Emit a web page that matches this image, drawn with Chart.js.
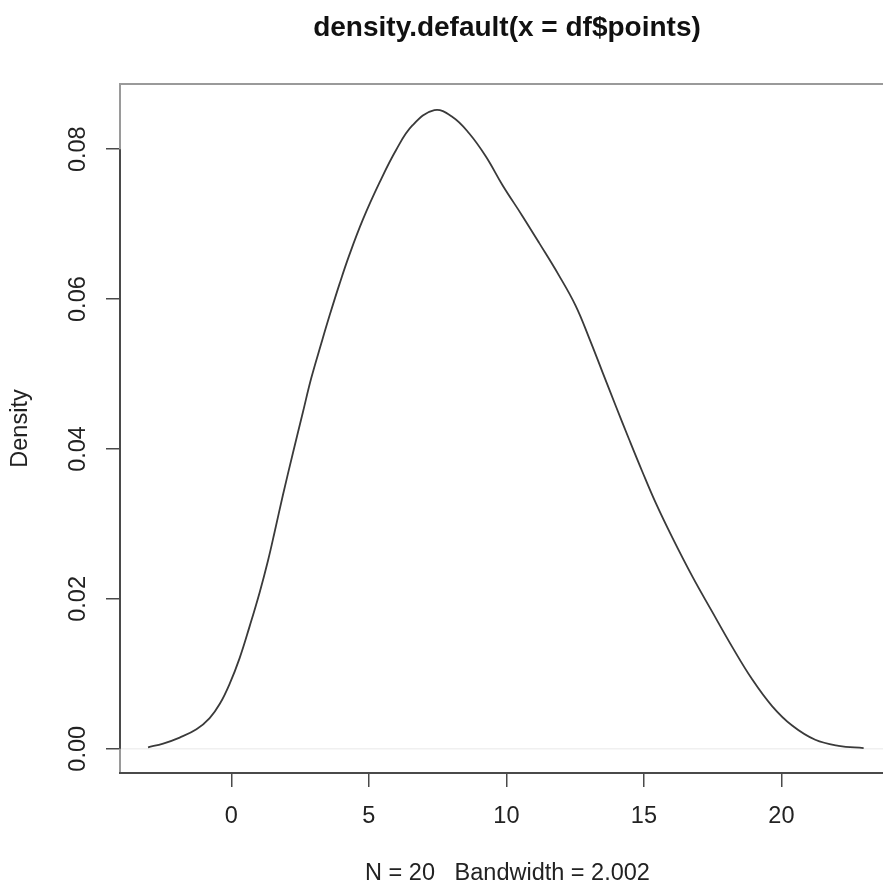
<!DOCTYPE html>
<html>
<head>
<meta charset="utf-8">
<script src="https://cdn.jsdelivr.net/npm/chart.js@4.4.1/dist/chart.umd.min.js"></script>
<style>
  html, body { margin: 0; padding: 0; background: #fff; overflow: hidden; }
  #wrap { position: relative; width: 1014px; height: 884px; }
</style>
</head>
<body>
<div id="wrap"><canvas id="densityChart"></canvas></div>
<script>
// density estimate
const densityX = [-3.03, -2.48, -1.88, -1.27, -0.79, -0.42, -0.06, 0.30, 0.66, 1.03,
	1.33, 1.57, 1.87, 2.24, 2.60, 2.90, 3.27, 3.57, 3.93, 4.29,
	4.78, 5.38, 5.99, 6.59, 7.38, 8.04, 8.65, 9.26, 9.86, 10.58,
	11.19, 11.92, 12.52, 13.01, 13.49, 13.97, 14.46, 14.94, 15.43, 16.03,
	16.76, 17.48, 18.21, 18.93, 19.66, 20.39, 21.23, 22.08, 22.99];
const densityY = [0.0002, 0.0007, 0.0015, 0.0026, 0.0041, 0.0060, 0.0087, 0.0121, 0.0163, 0.0209,
	0.0251, 0.0289, 0.0338, 0.0395, 0.0449, 0.0494, 0.0541, 0.0578, 0.0620, 0.0659,
	0.0706, 0.0755, 0.0799, 0.0832, 0.0852, 0.0843, 0.0821, 0.0790, 0.0752, 0.0711,
	0.0675, 0.0631, 0.0591, 0.0548, 0.0503, 0.0458, 0.0413, 0.0370, 0.0328, 0.0282,
	0.0230, 0.0183, 0.0136, 0.0093, 0.0057, 0.0031, 0.0012, 0.0004, 0.0001];

const xTicks = [0, 5, 10, 15, 20];
const yTicks = [0, 0.02, 0.04, 0.06, 0.08];
const yTickLabels = ['0.00', '0.02', '0.04', '0.06', '0.08'];
const xRange = [-4.05, 24.13];
const yRange = [-0.00323, 0.0887];

const chartTitle = 'density.default(x = df$points)';
const xTitle = 'N = 20   Bandwidth = 2.002';
const yTitle = 'Density';

const fontFamily = '"Liberation Sans", Arial, sans-serif';

// R style box: grey frame, darker axis lines over the tick range
const boxPlugin = {
	id: 'rBox',
	afterDatasetsDraw(chart) {
		const {ctx, chartArea: a, scales: {x, y}} = chart;
		ctx.save();
		ctx.lineWidth = 2;
		ctx.strokeStyle = '#9a9a9a';
		ctx.beginPath();
		ctx.moveTo(a.left, a.bottom);
		ctx.lineTo(a.left, a.top);
		ctx.lineTo(a.right, a.top);
		ctx.lineTo(a.right, a.bottom);
		ctx.stroke();
		ctx.strokeStyle = '#4a4a4a';
		ctx.beginPath();
		ctx.moveTo(a.left, y.getPixelForValue(yTicks[0]));
		ctx.lineTo(a.left, y.getPixelForValue(yTicks[yTicks.length - 1]));
		ctx.moveTo(a.left - 1, a.bottom);
		ctx.lineTo(a.right, a.bottom);
		ctx.stroke();
		ctx.restore();
	}
};

const chart = new Chart(document.getElementById('densityChart'), {
	type: 'line',
	data: {
		datasets: [
			{
				label: 'density',
				data: densityX.map((v, i) => ({x: v, y: densityY[i]})),
				borderColor: '#3a3a3a',
				borderWidth: 1.8,
				pointRadius: 0,
				fill: false,
				tension: 0.4
			},
			{
				label: 'zero',
				data: xRange.map(v => ({x: v, y: 0})),
				borderColor: '#f0f0f0',
				borderWidth: 1.5,
				pointRadius: 0,
				fill: false,
				order: 2
			}
		]
	},
	options: {
		responsive: true,
		maintainAspectRatio: false,
		animation: false,
		layout: { padding: 0 },
		plugins: {
			legend: { display: false },
			tooltip: { enabled: false },
			title: {
				display: true,
				text: chartTitle,
				color: '#111',
				font: { family: fontFamily, size: 28, weight: 'bold', lineHeight: 1.2 },
				padding: { top: 11, bottom: 39.4 }
			}
		},
		scales: {
			x: {
				type: 'linear',
				position: 'bottom',
				min: xRange[0],
				max: xRange[1],
				afterBuildTicks: scale => { scale.ticks = xTicks.map(v => ({value: v})); },
				afterFit: scale => { scale.height = 111; },
				border: { display: false },
				grid: { display: true, drawOnChartArea: false, drawTicks: true, tickLength: 14, color: '#4a4a4a', lineWidth: 1.5 },
				ticks: {
					color: '#222',
					padding: 15,
					font: { family: fontFamily, size: 23.5 },
					maxRotation: 0,
					callback: v => String(v)
				},
				title: {
					display: true,
					text: xTitle,
					color: '#222',
					font: { family: fontFamily, size: 23.5, lineHeight: 0.85 },
					padding: { top: 0, bottom: 0 }
				}
			},
			y: {
				type: 'linear',
				position: 'left',
				min: yRange[0],
				max: yRange[1],
				afterBuildTicks: scale => { scale.ticks = yTicks.map(v => ({value: v})); },
				afterFit: scale => { scale.width = 120; },
				border: { display: false },
				grid: { display: true, drawOnChartArea: false, drawTicks: true, tickLength: 14, color: '#4a4a4a', lineWidth: 1.5 },
				ticks: {
					color: '#222',
					padding: 5,
					crossAlign: 'center',
					minRotation: 90,
					maxRotation: 90,
					font: { family: fontFamily, size: 23.5 },
					callback: (v, i) => yTickLabels[i]
				},
				title: {
					display: true,
					text: yTitle,
					color: '#222',
					font: { family: fontFamily, size: 23.5, lineHeight: 1.2 },
					padding: { top: 6, bottom: 0 }
				}
			},
			yRight: {
				type: 'linear',
				position: 'right',
				display: true,
				afterFit: scale => { scale.width = 119; },
				border: { display: false },
				grid: { display: false },
				ticks: { display: false }
			}
		}
	},
	plugins: [boxPlugin]
});
</script>
</body>
</html>
